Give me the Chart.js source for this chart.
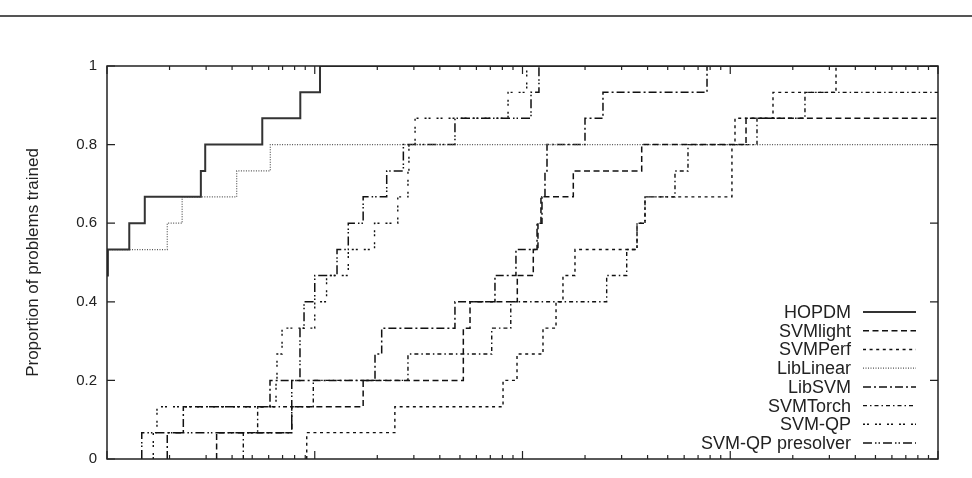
<!DOCTYPE html>
<html>
<head>
<meta charset="utf-8">
<script src="https://cdn.jsdelivr.net/npm/chart.js@4.4.1/dist/chart.umd.min.js"></script>
<style>
  html, body { margin: 0; padding: 0; background: #fff; }
  #wrap { position: relative; width: 972px; height: 478px; }
  #rule { position: absolute; left: 0; top: 15px; width: 972px; height: 2px; background: #555; }
  #profile { position: absolute; left: 0; top: 0; }
</style>
</head>
<body>
<div id="wrap">
  <div id="rule"></div>
  <canvas id="profile" width="972" height="478"></canvas>
</div>
<script>
// --- performance profile data (ratio tau, proportion of problems) ---
const hopdmTau = [1, 1.01, 1.28, 1.52, 2.83, 2.97, 5.59, 8.52, 10.6];
const hopdmProp = [0.467, 0.533, 0.6, 0.667, 0.733, 0.8, 0.867, 0.933, 1];

const svmlightTau = [3.37, 3.37, 7.75, 17.1, 51.9, 51.9, 55.9, 94.4, 112.7, 118.7, 122.7, 175.6, 374.8, 1191];
const svmlightProp = [0, 0.067, 0.133, 0.2, 0.267, 0.333, 0.4, 0.467, 0.533, 0.6, 0.667, 0.733, 0.8, 0.867];

const svmperfTau = [9.15, 9.15, 24.3, 80.6, 94.1, 125.5, 145, 156.6, 178.9, 355.8, 388.7, 1019, 1019, 1054, 1606, 3229];
const svmperfProp = [0, 0.067, 0.133, 0.2, 0.267, 0.333, 0.4, 0.467, 0.533, 0.6, 0.667, 0.733, 0.8, 0.867, 0.933, 1];

const liblinearTau = [1, 1.95, 2.30, 4.21, 6.11];
const liblinearProp = [0.533, 0.6, 0.667, 0.733, 0.8];

const libsvmTau = [1.95, 1.95, 2.33, 6.09, 19.5, 21.0, 47.3, 73.7, 93.0, 117.5, 124.1, 128.3, 131.2, 199.9, 244, 773];
const libsvmProp = [0, 0.067, 0.133, 0.2, 0.267, 0.333, 0.4, 0.467, 0.533, 0.6, 0.667, 0.733, 0.8, 0.867, 0.933, 1];

const svmtorchTau = [4.53, 4.53, 5.31, 9.84, 28.1, 71.1, 87.8, 254.2, 317.4, 355.8, 388.7, 542, 626, 1345, 2289];
const svmtorchProp = [0, 0.067, 0.133, 0.2, 0.267, 0.333, 0.4, 0.467, 0.533, 0.6, 0.667, 0.733, 0.8, 0.867, 0.933];

const svmqpTau = [1.67, 1.67, 1.74, 6.51, 6.58, 6.96, 10.0, 11.4, 14.5, 19.4, 25.1, 28.1, 28.4, 30.4, 85.2, 104.8];
const svmqpProp = [0, 0.067, 0.133, 0.2, 0.267, 0.333, 0.4, 0.467, 0.533, 0.6, 0.667, 0.733, 0.8, 0.867, 0.933, 1];

const presolverTau = [1.47, 1.47, 7.75, 7.75, 8.49, 8.49, 8.88, 10.0, 12.8, 14.5, 17.1, 22.2, 26.7, 47.3, 109.9, 120.0];
const presolverProp = [0, 0.067, 0.133, 0.2, 0.267, 0.333, 0.4, 0.467, 0.533, 0.6, 0.667, 0.733, 0.8, 0.867, 0.933, 1];

// axis
const xMin = 1, xMax = 10000;
const yTickStep = 0.2;
const xTickValues = [];
for (let d = xMin; d < xMax; d *= 10) {
    for (let m = 1; m < 10; m++) xTickValues.push(m * d);
}
xTickValues.push(xMax);

const FONT = '"Liberation Sans", Arial, Helvetica, sans-serif';

const series = [
    { label: 'HOPDM', tau: hopdmTau, prop: hopdmProp, color: '#333', width: 2, dash: [] },
    { label: 'SVMlight', tau: svmlightTau, prop: svmlightProp, color: '#111', width: 1.5, dash: [6, 3.5] },
    { label: 'SVMPerf', tau: svmperfTau, prop: svmperfProp, color: '#111', width: 1.4, dash: [3, 3.6] },
    { label: 'LibLinear', tau: liblinearTau, prop: liblinearProp, color: '#555', width: 1.2, dash: [1, 1.5] },
    { label: 'LibSVM', tau: libsvmTau, prop: libsvmProp, color: '#111', width: 1.5, dash: [8, 3, 2, 3] },
    { label: 'SVMTorch', tau: svmtorchTau, prop: svmtorchProp, color: '#111', width: 1.4, dash: [4, 3, 1.5, 3] },
    { label: 'SVM-QP', tau: svmqpTau, prop: svmqpProp, color: '#111', width: 1.4, dash: [2, 2, 2, 6] },
    { label: 'SVM-QP presolver', tau: presolverTau, prop: presolverProp, color: '#111', width: 1.5, dash: [9, 3, 1.5, 2, 1.5, 3] }
];

// step points, last level carried to the right edge
function steps(tau, prop) {
    const pts = tau.map((t, i) => ({ x: t, y: prop[i] }));
    pts.push({ x: xMax, y: prop[prop.length - 1] });
    return pts;
}

// gnuplot-like frame with inward ticks
const frame = {
    id: 'frame',
    afterDatasetsDraw(chart) {
        const { ctx, chartArea: a, scales: { x, y } } = chart;
        ctx.save();
        ctx.setLineDash([]);
        ctx.strokeStyle = '#222';
        ctx.lineWidth = 1.5;
        ctx.strokeRect(a.left, a.top, a.right - a.left, a.bottom - a.top);
        ctx.beginPath();
        y.ticks.forEach(t => {
            const py = y.getPixelForValue(t.value);
            ctx.moveTo(a.left, py); ctx.lineTo(a.left + 8, py);
            ctx.moveTo(a.right, py); ctx.lineTo(a.right - 8, py);
        });
        xTickValues.forEach(v => {
            const px = x.getPixelForValue(v);
            const len = /^10*$/.test(String(v)) ? 8 : 4;
            ctx.moveTo(px, a.bottom); ctx.lineTo(px, a.bottom - len);
            ctx.moveTo(px, a.top); ctx.lineTo(px, a.top + len);
        });
        ctx.lineWidth = 1.2;
        ctx.stroke();
        ctx.restore();
    }
};

// legend inside the lower right corner: text right-aligned, sample on the right
const profileLegend = {
    id: 'profileLegend',
    afterDraw(chart) {
        const { ctx, chartArea: a } = chart;
        const sets = chart.data.datasets;
        const rowH = 18.7;
        ctx.save();
        ctx.font = '18px ' + FONT;
        ctx.textAlign = 'right';
        ctx.textBaseline = 'middle';
        sets.forEach((ds, i) => {
            const y = a.bottom - 16 - (sets.length - 1 - i) * rowH;
            ctx.fillStyle = '#222';
            ctx.fillText(ds.label, a.right - 87, y + 1);
            ctx.beginPath();
            ctx.setLineDash(ds.borderDash);
            ctx.lineWidth = ds.borderWidth;
            ctx.strokeStyle = ds.borderColor;
            ctx.moveTo(a.right - 75, y);
            ctx.lineTo(a.right - 22, y);
            ctx.stroke();
        });
        ctx.restore();
    }
};

new Chart(document.getElementById('profile'), {
    type: 'line',
    data: {
        datasets: series.map(s => ({
            label: s.label,
            data: steps(s.tau, s.prop),
            stepped: 'before',
            borderColor: s.color,
            borderWidth: s.width,
            borderDash: s.dash,
            pointRadius: 0,
            fill: false
        }))
    },
    options: {
        responsive: false,
        animation: false,
        devicePixelRatio: 1,
        layout: { padding: { top: 66, right: 34, left: 0, bottom: 0 } },
        scales: {
            x: {
                type: 'logarithmic',
                min: xMin,
                max: xMax,
                ticks: { display: false },
                grid: { display: false, drawTicks: false },
                border: { display: false },
                afterBuildTicks: s => { s.ticks = xTickValues.map(v => ({ value: v })); },
                afterFit: s => { s.height = 11; }
            },
            y: {
                min: 0,
                max: 1,
                ticks: {
                    stepSize: yTickStep,
                    padding: 10,
                    color: '#222',
                    font: { family: FONT, size: 15 },
                    callback: v => String(Number(v.toFixed(1)))
                },
                grid: { display: false, drawTicks: false },
                border: { display: false },
                title: {
                    display: true,
                    text: 'Proportion of problems trained',
                    color: '#222',
                    font: { family: FONT, size: 17 },
                    padding: { top: 23, bottom: 0 }
                },
                afterFit: s => { s.width = 107; }
            }
        },
        plugins: {
            legend: { display: false },
            tooltip: { enabled: false }
        }
    },
    plugins: [frame, profileLegend]
});
</script>
</body>
</html>
